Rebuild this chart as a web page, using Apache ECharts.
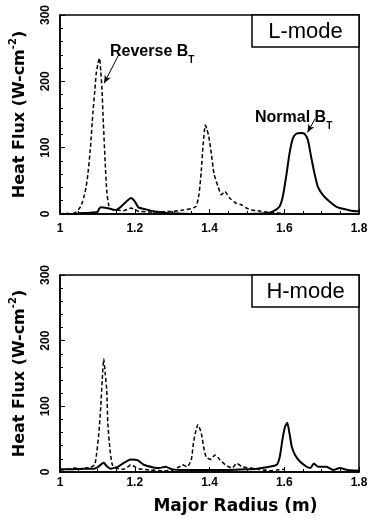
<!DOCTYPE html>
<html><head><meta charset="utf-8">
<script src="https://cdn.jsdelivr.net/npm/echarts@6/dist/echarts.min.js"></script>
<style>html,body{margin:0;padding:0;background:#fff}#c{width:373px;height:518px}</style>
</head><body><div id="c"></div>
<script>
// ---- data ----
const xRange = [1, 1.8];
const xStep = 0.2;
const yRange = [0, 300];
const yStep = 100;

// L-mode, Reverse B_T (dashed)
const lRevR = [1.00,1.02,1.03,1.04,1.05,1.055,1.06,1.065,1.07,1.075,1.081,1.088,1.093,1.097,1.102,1.106,1.109,1.112,1.116,1.121,1.125,1.13,1.138,1.15,1.17,1.18,1.19,1.20,1.21,1.25,1.30,1.33,1.35,1.36,1.365,1.372,1.378,1.383,1.389,1.393,1.398,1.405,1.412,1.423,1.432,1.441,1.454,1.472,1.485,1.499,1.512,1.53,1.55,1.57,1.60];
const lRevQ = [0,1,0,2,7,11,18,28,41,62,97,152,185,212,228,235,215,192,137,76,36,14,7,6,5,7,9,7,4,3,4,6,8,10,12,30,65,105,134,128,117,91,61,41,29,34,24,16,14,9,6,5,3,2,1];

// L-mode, Normal B_T (solid)
const lNorR = [1.00,1.01,1.02,1.03,1.05,1.08,1.10,1.105,1.11,1.125,1.14,1.15,1.165,1.18,1.19,1.20,1.21,1.23,1.25,1.28,1.30,1.35,1.50,1.55,1.57,1.587,1.596,1.605,1.614,1.623,1.632,1.645,1.654,1.663,1.672,1.681,1.69,1.703,1.721,1.743,1.765,1.78,1.80];
const lNorQ = [0,-1,-2,0,1,2,3,8,10,9,7,6,12,20,24,19,10,7,4,2,1,0,0,1,4,11,26,56,91,114,121,122,121,112,86,61,41,29,19,10,7,5,4];

// H-mode, Reverse B_T (dashed)
const hRevR = [1.00,1.02,1.04,1.06,1.07,1.08,1.085,1.093,1.098,1.104,1.109,1.113,1.117,1.121,1.125,1.128,1.134,1.14,1.15,1.17,1.18,1.189,1.20,1.21,1.24,1.28,1.30,1.32,1.327,1.34,1.351,1.357,1.362,1.369,1.378,1.384,1.391,1.402,1.415,1.429,1.442,1.46,1.473,1.487,1.51,1.53,1.56,1.58,1.60];
const hRevQ = [3,4,6,4,7,5,8,11,28,59,99,140,172,150,125,74,33,11,6,4,7,11,8,5,3,2,3,8,11,8,18,44,59,72,59,39,23,19,26,18,11,6,13,8,6,4,2,3,4];

// H-mode, Normal B_T (solid)
const hNorR = [1.00,1.03,1.06,1.09,1.10,1.117,1.125,1.135,1.15,1.158,1.171,1.189,1.207,1.224,1.25,1.265,1.282,1.30,1.33,1.40,1.45,1.50,1.527,1.561,1.58,1.588,1.595,1.602,1.608,1.614,1.62,1.629,1.642,1.66,1.67,1.679,1.691,1.713,1.731,1.749,1.77,1.80];
const hNorQ = [4,4,5,5,7,14,9,5,7,9,14,19,18,11,7,6,8,4,3,3,3,4,5,8,11,23,49,69,75,59,39,26,16,8,6,13,8,8,3,6,3,2];

const yTitle = 'Heat Flux (W-cm{sup|-2})';
const xTitle = 'Major Radius (m)';
const panelLabels = ['L-mode', 'H-mode'];

// ---- chart ----
function pairs(r, q) { return r.map((x, i) => [x, q[i]]); }
const lab = { fontFamily: 'Liberation Sans', fontWeight: 'bold', fontSize: 12, color: '#000' };
const grids = [
  { left: 58, right: 14, top: 15, height: 199 },
  { left: 58, right: 14, top: 275, height: 197 }
];
function xAx(i, withName) {
  return {
    type: 'value', gridIndex: i, min: xRange[0], max: xRange[1], interval: xStep,
    axisLine: { lineStyle: { color: '#000', width: 1.5 } },
    axisTick: { inside: true, length: 5, lineStyle: { color: '#000' } },
    minorTick: { show: true, splitNumber: 4, length: 3, lineStyle: { color: '#000' } },
    splitLine: { show: false },
    axisLabel: Object.assign({ margin: i === 0 ? 9 : 5, showMaxLabel: true, showMinLabel: true }, lab),
    name: withName ? xTitle : '', nameLocation: 'middle', nameGap: 26,
    nameTextStyle: { fontFamily: 'DejaVu Sans', fontWeight: 'bold', fontSize: 17, color: '#000', padding: [0, 0, 0, 52] }
  };
}
function yAx(i) {
  return {
    type: 'value', gridIndex: i, min: yRange[0], max: yRange[1], interval: yStep,
    axisLine: { show: true, lineStyle: { color: '#000', width: 1.5 } },
    axisTick: { show: true, inside: true, length: 5, lineStyle: { color: '#000' } },
    minorTick: { show: true, splitNumber: 5, length: 3, lineStyle: { color: '#000' } },
    splitLine: { show: false },
    axisLabel: Object.assign({ rotate: 90, margin: 8 }, lab),
    name: yTitle, nameLocation: 'middle', nameGap: 28, nameRotate: 90,
    nameTextStyle: {
      fontFamily: 'DejaVu Sans', fontWeight: 'bold', fontSize: 16, color: '#000',
      rich: { sup: { fontFamily: 'DejaVu Sans', fontWeight: 'bold', fontSize: 10, verticalAlign: 'top', lineHeight: 24, color: '#000' } }
    }
  };
}
const dashed = { color: '#000', width: 1.5, type: [4, 2.5] };
const solid = { color: '#000', width: 2 };
const arrowStyle = { type: 'solid', width: 1, color: '#000' };
function line(i, r, q, ls, mark) {
  const s = {
    type: 'line', xAxisIndex: i, yAxisIndex: i, data: pairs(r, q), showSymbol: false,
    symbol: 'none', lineStyle: ls, smooth: 0.2, animation: false, silent: true, z: ls === solid ? 3 : 2
  };
  if (mark) {
    s.markLine = {
      silent: true, symbol: ['none', 'arrow'], symbolSize: [5, 8], animation: false,
      label: { show: false }, lineStyle: arrowStyle,
      data: [[{ coord: mark[0] }, { coord: mark[1] }]]
    };
  }
  return s;
}
function sub(txt) {
  return {
    type: 'text', style: {
      text: txt + ' B{t|T}', fontFamily: 'Liberation Sans', fontWeight: 'bold', fontSize: 16, fill: '#000',
      verticalAlign: 'middle',
      rich: { t: { fontFamily: 'Liberation Sans', fontWeight: 'bold', fontSize: 10, verticalAlign: 'bottom', lineHeight: 27, fill: '#000' } }
    }
  };
}
function box(y, txt) {
  return {
    type: 'group', x: 252, y: y, z: 10, children: [
      { type: 'rect', shape: { x: 0, y: 0, width: 107, height: 32 }, style: { fill: '#fff', stroke: '#000', lineWidth: 1.5 } },
      { type: 'text', x: 53.5, y: 16.5, style: { text: txt, fontFamily: 'Liberation Sans', fontSize: 22, fill: '#000', align: 'center', verticalAlign: 'middle' } }
    ]
  };
}
const chart = echarts.init(document.getElementById('c'), null, { renderer: 'canvas' });
chart.setOption({
  backgroundColor: '#fff',
  animation: false,
  grid: grids.map(g => Object.assign({ show: true, borderColor: '#000', borderWidth: 1.5, backgroundColor: 'transparent' }, g)),
  xAxis: [xAx(0, false), xAx(1, true)],
  yAxis: [yAx(0), yAx(1)],
  series: [
    line(0, lRevR, lRevQ, dashed, [[1.157, 240], [1.118, 197]]),
    line(0, lNorR, lNorQ, solid, [[1.683, 144], [1.662, 123]]),
    line(1, hRevR, hRevQ, dashed),
    line(1, hNorR, hNorQ, solid)
  ],
  graphic: [
    Object.assign(sub('Reverse'), { x: 110, y: 52 }),
    Object.assign(sub('Normal'), { x: 255, y: 118 }),
    box(15, panelLabels[0]),
    box(275, panelLabels[1])
  ]
});
</script></body></html>
